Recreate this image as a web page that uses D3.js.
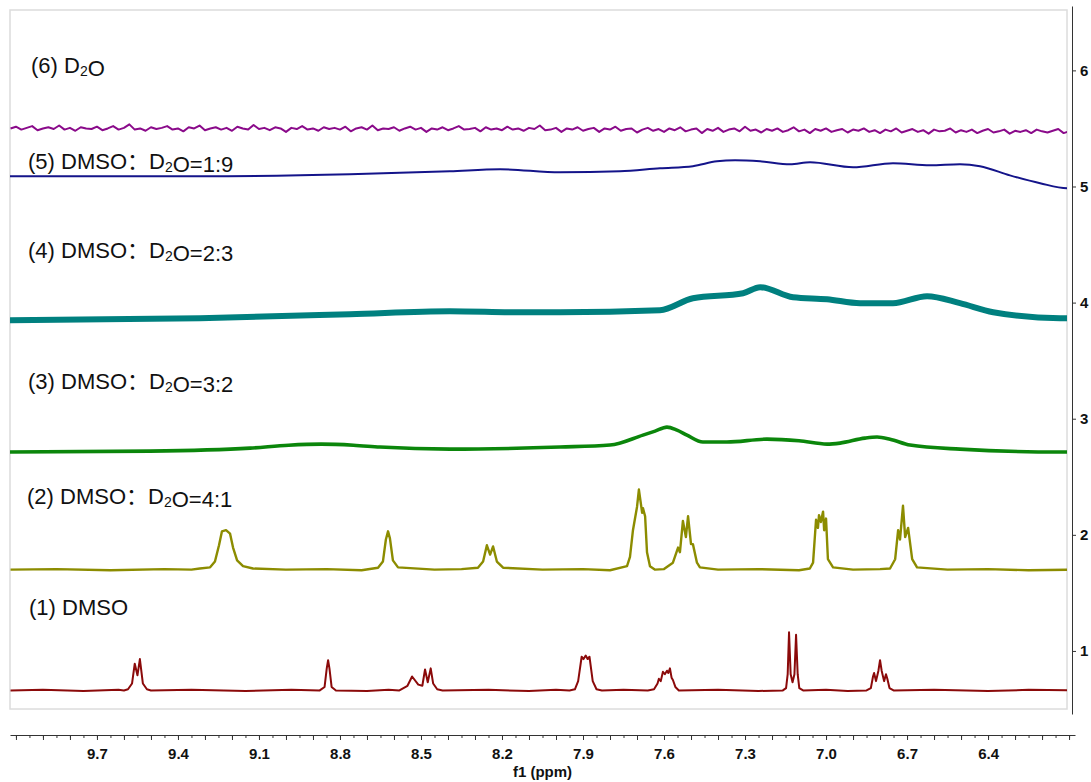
<!DOCTYPE html>
<html>
<head>
<meta charset="utf-8">
<script src="https://cdn.jsdelivr.net/npm/d3@7"></script>
<style>
  body { margin: 0; background: #fff; }
  svg text { font-family: "Liberation Sans", Arial, "Noto Sans CJK SC", sans-serif; }
</style>
</head>
<body>
<svg id="nmr" width="1091" height="782"></svg>
<script>
// ---- data ----
const ppmTicks = [9.7, 9.4, 9.1, 8.8, 8.5, 8.2, 7.9, 7.6, 7.3, 7.0, 6.7, 6.4];
const offsetTicks = [1, 2, 3, 4, 5, 6];

const spectrumNames = [
  '(1) DMSO',
  '(2) DMSO：D₂O=4:1',
  '(3) DMSO：D₂O=3:2',
  '(4) DMSO：D₂O=2:3',
  '(5) DMSO：D₂O=1:9',
  '(6) D₂O'
];
const spectrumColors = ['#8b0a0a', '#8c8c00', '#0b860b', '#00807f', '#14148a', '#8a0a8a'];

// [ppm, intensity on the right axis]
const dmso = [
  [10.02,0.66],[9.90,0.665],[9.75,0.655],[9.62,0.665],
  [9.60,0.66],[9.585,0.67],[9.57,0.72],[9.56,0.89],[9.55,0.79],[9.541,0.93],[9.53,0.72],[9.515,0.67],[9.50,0.66],
  [9.35,0.665],[9.15,0.655],[8.98,0.665],
  [8.875,0.66],[8.857,0.69],[8.849,0.85],[8.844,0.92],[8.839,0.85],[8.831,0.69],[8.815,0.66],
  [8.70,0.655],[8.62,0.665],
  [8.58,0.66],[8.55,0.70],[8.533,0.78],[8.51,0.71],[8.495,0.70],[8.485,0.84],[8.475,0.73],[8.464,0.85],[8.455,0.72],[8.44,0.67],[8.42,0.66],
  [8.25,0.665],[8.10,0.655],[8.00,0.665],
  [7.95,0.66],[7.93,0.67],[7.918,0.74],[7.905,0.95],[7.898,0.93],[7.89,0.96],[7.883,0.93],[7.876,0.95],[7.864,0.74],[7.85,0.67],[7.83,0.66],
  [7.75,0.665],
  [7.66,0.66],[7.637,0.67],[7.624,0.72],[7.619,0.76],[7.612,0.74],[7.604,0.82],[7.597,0.80],[7.589,0.83],[7.584,0.81],[7.578,0.85],[7.572,0.77],[7.567,0.75],[7.558,0.69],[7.545,0.66],
  [7.40,0.665],[7.25,0.655],
  [7.16,0.66],[7.148,0.68],[7.142,0.80],[7.137,1.16],[7.131,0.80],[7.124,0.73],[7.117,0.80],[7.111,1.14],[7.105,0.80],[7.099,0.68],[7.085,0.66],
  [7.00,0.665],[6.92,0.655],
  [6.85,0.66],[6.834,0.68],[6.826,0.78],[6.822,0.81],[6.815,0.74],[6.806,0.83],[6.800,0.92],[6.794,0.83],[6.785,0.74],[6.778,0.80],[6.773,0.76],[6.765,0.68],[6.75,0.66],
  [6.60,0.665],[6.40,0.655],[6.25,0.665],[6.08,0.66]
];

const mix41 = [
  [10.02,1.70],[9.85,1.705],[9.65,1.695],[9.45,1.705],[9.35,1.70],
  [9.319,1.71],[9.281,1.72],[9.263,1.77],[9.248,1.91],[9.237,2.03],[9.222,2.04],[9.207,2.01],[9.196,1.89],[9.181,1.78],[9.159,1.73],[9.122,1.71],
  [9.00,1.70],[8.85,1.705],[8.72,1.695],
  [8.659,1.717],[8.641,1.77],[8.630,1.96],[8.622,2.03],[8.615,1.97],[8.604,1.78],[8.585,1.72],
  [8.45,1.70],[8.35,1.705],
  [8.289,1.717],[8.270,1.77],[8.256,1.91],[8.244,1.83],[8.233,1.90],[8.219,1.77],[8.196,1.717],
  [8.05,1.70],[7.90,1.705],[7.80,1.695],
  [7.737,1.73],[7.726,1.81],[7.715,2.04],[7.700,2.24],[7.693,2.39],[7.681,2.19],[7.678,2.23],[7.670,2.16],[7.663,1.85],[7.652,1.73],[7.633,1.70],
  [7.600,1.705],
  [7.567,1.76],[7.548,1.89],[7.541,1.85],[7.530,2.12],[7.519,1.98],[7.511,2.16],[7.500,1.92],[7.493,1.92],[7.478,1.76],[7.467,1.72],
  [7.40,1.70],[7.25,1.705],[7.10,1.695],
  [7.060,1.71],[7.048,1.76],[7.037,2.13],[7.030,2.06],[7.026,2.17],[7.019,2.11],[7.011,2.20],[7.007,2.04],[7.000,2.14],[6.993,1.79],[6.974,1.72],
  [6.90,1.70],[6.80,1.705],
  [6.763,1.71],[6.744,1.79],[6.733,2.04],[6.726,1.96],[6.715,2.25],[6.707,1.98],[6.696,2.06],[6.681,1.79],[6.663,1.72],
  [6.55,1.70],[6.40,1.705],[6.25,1.695],[6.08,1.70]
];

const mix32 = [
  [10.022,2.713],[9.504,2.721],[9.133,2.747],[8.99,2.772],[8.870,2.781],[8.75,2.772],[8.652,2.756],
  [8.393,2.738],[7.985,2.756],[7.800,2.773],[7.678,2.859],[7.633,2.893],[7.589,2.928],[7.552,2.902],
  [7.515,2.859],[7.456,2.799],[7.367,2.799],[7.219,2.824],[7.10,2.81],[6.996,2.781],[6.948,2.790],
  [6.856,2.833],[6.811,2.842],[6.763,2.824],[6.689,2.773],[6.504,2.738],[6.133,2.713],[6.078,2.713]
];

const mix23 = [
  [10.022,3.849],[9.319,3.866],[8.763,3.900],[8.393,3.926],[8.133,3.917],[7.985,3.917],
  [7.615,3.935],[7.493,4.038],[7.307,4.081],[7.244,4.133],[7.122,4.046],[6.996,4.029],
  [6.874,3.995],[6.752,3.995],[6.626,4.055],[6.504,3.995],[6.381,3.917],[6.133,3.866],[6.078,3.866]
];

const mix19 = [
  [10.022,5.088],[9.319,5.088],[8.763,5.105],[8.393,5.131],[8.207,5.148],[7.985,5.122],
  [7.763,5.131],[7.615,5.157],[7.493,5.175],[7.404,5.217],[7.337,5.226],[7.244,5.217],
  [7.133,5.191],[7.059,5.208],[6.900,5.165],[6.752,5.200],[6.615,5.182],[6.504,5.191],
  [6.430,5.175],[6.319,5.096],[6.207,5.028],[6.107,4.985],[6.078,4.985]
];

// D2O trace: one reading every 0.02 ppm from 10.02 ppm downwards
const d2oStart = 10.02;
const d2oStep = 0.02;
const d2oValues = [
  5.50,5.515,5.49,5.505,5.52,5.485,5.50,5.51,5.495,5.525,5.49,5.505,5.48,5.51,5.50,5.495,5.515,5.485,5.50,5.52,
  5.49,5.505,5.535,5.49,5.50,5.48,5.51,5.495,5.505,5.52,5.49,5.50,5.475,5.51,5.50,5.525,5.485,5.50,5.51,5.49,
  5.505,5.48,5.515,5.50,5.49,5.53,5.495,5.505,5.485,5.51,5.50,5.47,5.505,5.495,5.52,5.49,5.50,5.48,5.51,5.495,
  5.505,5.49,5.515,5.475,5.50,5.51,5.49,5.525,5.485,5.50,5.495,5.51,5.48,5.50,5.515,5.49,5.505,5.47,5.50,5.49,
  5.51,5.485,5.50,5.52,5.49,5.495,5.505,5.475,5.51,5.49,5.50,5.485,5.515,5.49,5.50,5.48,5.505,5.495,5.525,5.485,
  5.49,5.505,5.47,5.50,5.49,5.51,5.48,5.495,5.505,5.47,5.50,5.49,5.515,5.48,5.495,5.50,5.465,5.49,5.505,5.48,
  5.495,5.47,5.50,5.485,5.51,5.475,5.49,5.50,5.46,5.495,5.48,5.505,5.47,5.49,5.50,5.475,5.515,5.48,5.49,5.465,
  5.495,5.48,5.50,5.47,5.485,5.51,5.475,5.49,5.46,5.495,5.48,5.50,5.47,5.485,5.495,5.465,5.49,5.48,5.50,5.47,
  5.485,5.46,5.49,5.475,5.50,5.465,5.48,5.495,5.47,5.485,5.455,5.49,5.475,5.48,5.50,5.465,5.485,5.47,5.49,5.46,
  5.48,5.495,5.465,5.475,5.49,5.455,5.48,5.47,5.485,5.46,5.49,5.475,5.465,5.48,5.495,5.46,5.475,5.485,5.465,5.48
];
const d2o = d2oValues.map((v, i) => [d2oStart - i * d2oStep, v]);

const spectra = [dmso, mix41, mix32, mix23, mix19, d2o];

// ---- layout ----
const svg = d3.select('#nmr');
const frame = { left: 10, top: 10, right: 1067, bottom: 709 };
const strokeWidths = [2, 2.4, 3.6, 6, 2, 2];
const curves = [d3.curveLinear, d3.curveLinear, d3.curveMonotoneX, d3.curveMonotoneX, d3.curveMonotoneX, d3.curveLinear];
const labelX = [29, 27, 28, 28, 28, 31];
const labelY = [615, 504, 389, 258, 169, 73];

const x = d3.scaleLinear().domain([10.022, 6.078]).range([10, 1075]);
const y = d3.scaleLinear().domain([0.5, 6.52]).range([frame.bottom, frame.top]);

svg.append('defs').append('clipPath').attr('id', 'plot-clip')
  .append('rect')
  .attr('x', frame.left).attr('y', frame.top)
  .attr('width', frame.right - frame.left).attr('height', frame.bottom - frame.top);

svg.append('rect')
  .attr('x', frame.left).attr('y', frame.top)
  .attr('width', frame.right - frame.left).attr('height', frame.bottom - frame.top)
  .attr('fill', 'none')
  .attr('stroke', '#dcdcdc')
  .attr('stroke-width', 1.5);

const plot = svg.append('g').attr('clip-path', 'url(#plot-clip)');

spectra.forEach((data, i) => {
  const line = d3.line()
    .x(d => x(d[0]))
    .y(d => y(d[1]))
    .curve(curves[i]);
  plot.append('path')
    .datum(data)
    .attr('d', line)
    .attr('fill', 'none')
    .attr('stroke', spectrumColors[i])
    .attr('stroke-width', strokeWidths[i])
    .attr('stroke-linejoin', 'round');
});

// spectrum labels, with subscript 2
spectrumNames.forEach((name, i) => {
  const t = svg.append('text')
    .attr('x', labelX[i])
    .attr('y', labelY[i])
    .attr('font-size', 22)
    .attr('fill', '#111');
  const parts = name.split('₂');
  parts.forEach((p, j) => {
    t.append('tspan').text(p);
    if (j < parts.length - 1) {
      t.append('tspan').attr('font-size', 14).attr('dy', 3).text('2');
      t.append('tspan').attr('dy', -3).text('');
    }
  });
});

// bottom ppm axis
const axisY = 735;
const minorTicks = d3.range(122, 201).map(i => i / 20);
const majorTicks = minorTicks.filter((d, i) => i % 2 === 0);

svg.append('g')
  .attr('transform', `translate(0,${axisY})`)
  .call(d3.axisBottom(x).tickValues(minorTicks).tickSize(3).tickSizeOuter(0).tickFormat(''))
  .call(g => g.select('.domain').attr('stroke', '#333'))
  .call(g => g.selectAll('.tick line').attr('stroke', '#333'));

svg.append('g')
  .attr('transform', `translate(0,${axisY})`)
  .call(d3.axisBottom(x).tickValues(majorTicks).tickSize(5).tickSizeOuter(0).tickFormat(''))
  .call(g => g.select('.domain').remove())
  .call(g => g.selectAll('.tick line').attr('stroke', '#333'));

svg.append('g')
  .attr('transform', `translate(0,${axisY})`)
  .call(d3.axisBottom(x).tickValues(ppmTicks).tickSize(0).tickPadding(13).tickFormat(d3.format('.1f')))
  .call(g => g.select('.domain').remove())
  .call(g => g.selectAll('text')
    .attr('font-size', 15)
    .attr('font-weight', 'bold')
    .attr('fill', '#111')
    .style('font-family', '"Liberation Sans", Arial, sans-serif'));

svg.append('text')
  .attr('x', (x.range()[0] + x.range()[1]) / 2)
  .attr('y', 777)
  .attr('text-anchor', 'middle')
  .attr('font-size', 15)
  .attr('font-weight', 'bold')
  .attr('fill', '#111')
  .text('f1 (ppm)');

// right offset axis
const yAxisScale = d3.scaleLinear().domain([y.invert(714), y.invert(6)]).range([714, 6]);
svg.append('g')
  .attr('transform', 'translate(1072,0)')
  .call(d3.axisRight(yAxisScale).tickValues(offsetTicks).tickSize(4).tickSizeOuter(0).tickPadding(4).tickFormat(d3.format('d')))
  .call(g => g.select('.domain').attr('stroke', '#333'))
  .call(g => g.selectAll('.tick line').attr('stroke', '#333'))
  .call(g => g.selectAll('text')
    .attr('font-size', 15)
    .attr('font-weight', 'bold')
    .attr('fill', '#111')
    .style('font-family', '"Liberation Sans", Arial, sans-serif'));
</script>
</body>
</html>
